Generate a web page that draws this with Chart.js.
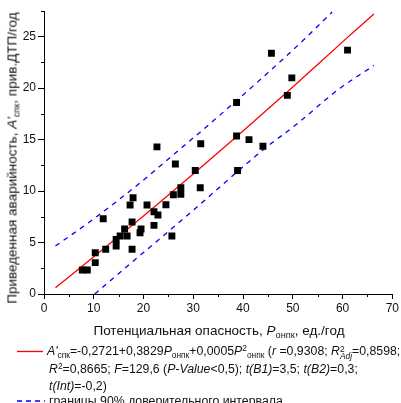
<!DOCTYPE html>
<html>
<head>
<meta charset="utf-8">
<script src="https://cdn.jsdelivr.net/npm/chart.js@4/dist/chart.umd.min.js"></script>
<style>
html,body{margin:0;padding:0;background:#fff;}
#wrap{position:relative;width:401px;height:403px;overflow:hidden;font-family:Arial,"Liberation Sans",sans-serif;color:#111;}
#c{position:absolute;left:0;top:0;}
.t{position:absolute;white-space:nowrap;}
i{font-style:italic;}
sub{font-size:0.68em;vertical-align:-0.35em;line-height:0;}
sup{font-size:0.68em;vertical-align:0.5em;line-height:0;}
.ss{display:inline-block;vertical-align:-0.45em;line-height:0.75em;font-size:0.68em;text-align:left;}
.ss span{display:block;}
.leg{font-size:12.3px;line-height:16px;}
</style>
</head>
<body>
<div id="wrap">
<canvas id="c" width="401" height="403"></canvas>
<div class="t" style="left:12px;top:158px;font-size:13.5px;transform:translate(-50%,-50%) rotate(-90deg);">Приведенная аварийность, <i>A'</i><sub>спк</sub>, прив.ДТП/год</div>
<div class="t" style="left:219px;top:330px;font-size:13.5px;transform:translate(-50%,-50%);">Потенциальная опасность, <i>P</i><sub>онпк</sub>, ед./год</div>
<svg class="t" style="left:0;top:340px" width="50" height="70"><line x1="17" y1="11.5" x2="43" y2="11.5" stroke="#ff0000" stroke-width="1.3"/><line x1="17" y1="61" x2="45" y2="61" stroke="#0000ff" stroke-width="1.3" stroke-dasharray="5,4"/></svg>
<div class="t leg" style="left:47px;top:343px;"><i>A'</i><sub>спк</sub>=-0,2721+0,3829<i>P</i><sub>онпк</sub>+0,0005<i>P</i><sup>2</sup><sub>онпк</sub> (<i>r</i> =0,9308; <i>R</i><span class="ss"><span>2</span><span><i>Adj</i></span></span>=0,8598;</div>
<div class="t leg" style="left:49px;top:361px;"><i>R</i><sup>2</sup>=0,8665; <i>F</i>=129,6 (<i>P-Value</i>&lt;0,5); <i>t(B1)</i>=3,5; <i>t(B2)</i>=0,3;</div>
<div class="t leg" style="left:49px;top:378px;"><i>t(Int)</i>=-0,2)</div>
<div class="t leg" style="left:49px;top:393px;">границы 90% доверительного интервала</div>
</div>
<script>
// Observed points
const pointsX = [7.7, 8.7, 10.3, 10.3, 12.4, 11.9, 14.5, 14.5, 15.3, 16.2, 16.7, 17.7, 17.7, 17.3, 17.9, 19.3, 19.5, 20.7, 22.1, 22.1, 22.9, 22.7, 24.5, 25.7, 26.0, 26.4, 27.5, 27.5, 30.4, 31.4, 31.5, 38.7, 38.9, 38.7, 41.2, 44.0, 45.7, 48.9, 49.8, 61.0];
const pointsY = [2.33, 2.33, 3.05, 4.0, 4.34, 7.32, 4.66, 5.3, 5.64, 6.32, 5.64, 4.34, 7.0, 8.65, 9.36, 5.96, 6.32, 8.65, 8.0, 6.67, 7.68, 14.3, 8.68, 5.64, 9.65, 12.63, 10.33, 9.69, 12.0, 10.33, 14.6, 15.35, 12.0, 18.6, 15.0, 14.35, 23.4, 19.3, 21.0, 23.7];
// Regression curve
const fitX = [2.3, 10, 20, 30, 40, 50, 60, 66.3];
const fitY = [0.61, 3.61, 7.59, 11.67, 15.84, 20.12, 24.50, 27.2];
// 90% band, upper and lower
const upperX = [2.3, 10, 19.2, 27.9, 34.2, 42, 52.2, 57.9];
const upperY = [4.66, 7.3, 10.76, 14.31, 16.9, 20.2, 24.7, 27.4];
const lowerX = [10.2, 16, 23.1, 28.9, 38.9, 44, 50.5, 59.5, 66.3];
const lowerY = [0.0, 2.4, 5.3, 7.68, 11.9, 14.0, 16.4, 20.0, 22.2];
// Axis ticks
const xMajorTicks = [0, 10, 20, 30, 40, 50, 60, 70];
const yMajorTicks = [0, 5, 10, 15, 20, 25];

const zip = (a, b) => a.map((v, i) => ({x: v, y: b[i]}));

const minorTicks = {
  id: 'minorTicks',
  afterDraw(chart) {
    const ctx = chart.ctx, xs = chart.scales.x, ys = chart.scales.y;
    const area = chart.chartArea;
    ctx.save();
    ctx.strokeStyle = '#000';
    ctx.lineWidth = 1;
    ctx.beginPath();
    for (let i = 0; i < xMajorTicks.length - 1; i++) {
      const v = (xMajorTicks[i] + xMajorTicks[i + 1]) / 2;
      const p = Math.round(xs.getPixelForValue(v)) + 0.5;
      ctx.moveTo(p, area.bottom); ctx.lineTo(p, area.bottom + 3);
    }
    for (let i = 0; i < yMajorTicks.length; i++) {
      const v = yMajorTicks[i] + 2.5;
      const p = Math.round(ys.getPixelForValue(v)) + 0.5;
      ctx.moveTo(area.left, p); ctx.lineTo(area.left - 3, p);
    }
    ctx.stroke();
    ctx.restore();
  }
};

new Chart(document.getElementById('c'), {
  type: 'scatter',
  data: {
    datasets: [
      {data: zip(pointsX, pointsY), pointStyle: 'rect', pointRadius: 4.9, backgroundColor: '#000', borderColor: '#000', borderWidth: 0, order: 0},
      {type: 'line', data: zip(fitX, fitY), borderColor: '#ff0000', borderWidth: 1.3, pointRadius: 0, fill: false, cubicInterpolationMode: 'monotone', order: 1},
      {type: 'line', data: zip(upperX, upperY), borderColor: '#0000ff', borderWidth: 1.3, borderDash: [5, 5], pointRadius: 0, fill: false, cubicInterpolationMode: 'monotone', order: 2},
      {type: 'line', data: zip(lowerX, lowerY), borderColor: '#0000ff', borderWidth: 1.3, borderDash: [5, 5], pointRadius: 0, fill: false, cubicInterpolationMode: 'monotone', order: 2}
    ]
  },
  options: {
    responsive: false,
    animation: false,
    devicePixelRatio: 1,
    layout: {padding: {top: 11, right: 7, left: 0, bottom: 0}},
    plugins: {legend: {display: false}, tooltip: {enabled: false}},
    scales: {
      x: {
        type: 'linear', min: 0, max: 70,
        afterFit(s) { s.height = 109; },
        border: {display: true, color: '#000', width: 1},
        grid: {display: true, drawOnChartArea: false, drawTicks: true, tickLength: 5, tickColor: '#000'},
        ticks: {stepSize: 10, includeBounds: false, padding: 2, color: '#111', font: {family: 'Arial, "Liberation Sans"', size: 12}, maxRotation: 0}
      },
      y: {
        type: 'linear', min: 0, max: 27.5,
        afterFit(s) { s.width = 44; },
        border: {display: true, color: '#000', width: 1},
        grid: {display: true, drawOnChartArea: false, drawTicks: true, tickLength: 6, tickColor: '#000'},
        ticks: {stepSize: 5, includeBounds: false, padding: 2, color: '#111', font: {family: 'Arial, "Liberation Sans"', size: 12}}
      }
    }
  },
  plugins: [minorTicks]
});
</script>
</body>
</html>
